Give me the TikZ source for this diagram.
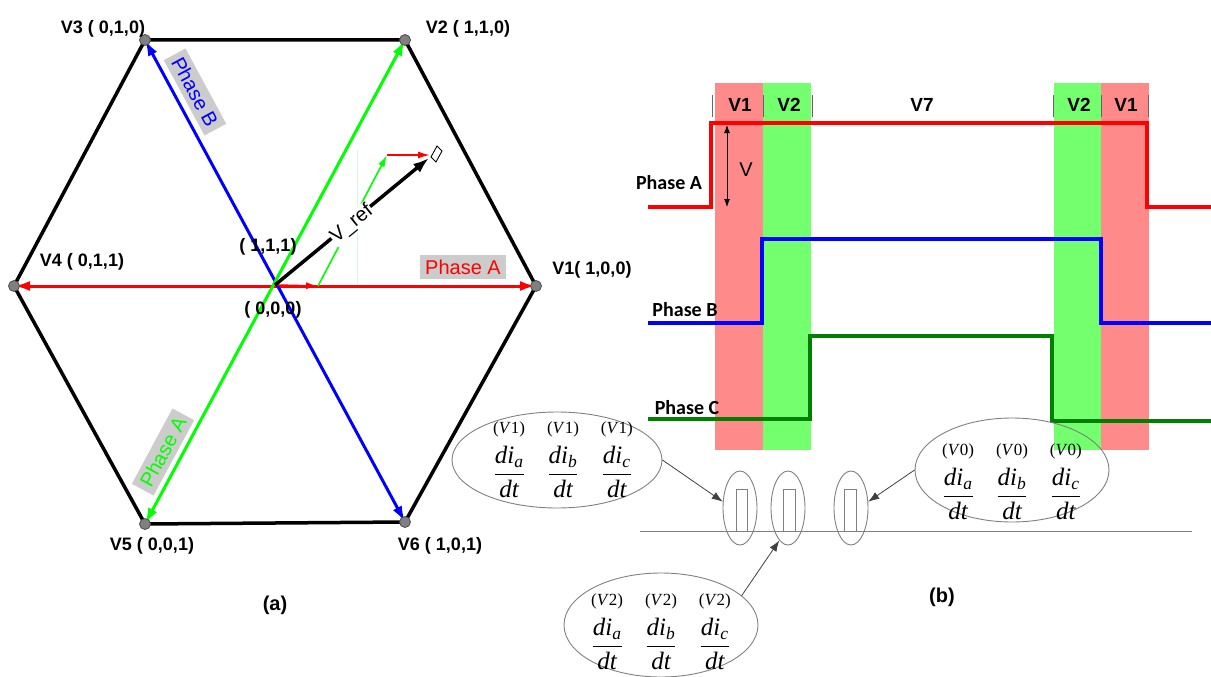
\documentclass[tikz,border=0pt]{standalone}
\usepackage{amsmath}
\usepackage{fontspec}
\setmainfont{Liberation Serif}
\setsansfont{Liberation Sans}
\newfontfamily\carlito{Carlito}
\usetikzlibrary{arrows.meta,positioning,shapes.geometric}

\definecolor{bandred}{HTML}{FF8A8A}
\definecolor{bandgreen}{HTML}{73FF6E}
\definecolor{limegr}{HTML}{00FF00}
\definecolor{phasec}{HTML}{007F00}
\definecolor{boxgray}{HTML}{CCCCCC}

\newcommand{\rate}[2]{\begin{tabular}{@{}c@{}}{\fontsize{17}{17}\selectfont(\textit{V}#2)}\\[4pt]$\dfrac{\textit{di}_{\textit{#1}}}{\textit{dt}}$\end{tabular}}
\newcommand{\rates}[1]{\rate{a}{#1}\hspace{22pt}\rate{b}{#1}\hspace{22pt}\rate{c}{#1}}

\begin{document}
\begin{tikzpicture}[x=1pt, y=-1pt,
  hexside/.style={line width=3.5pt, line join=round},
  vec/.style={line width=3pt, {Latex[length=16pt,width=10pt]}-{Latex[length=16pt,width=10pt]}},
  comp/.style={line width=1.6pt, -{Latex[length=12pt,width=7pt]}},
  vtx/.style={circle, draw=black!70, fill=gray, line width=0.8pt, minimum size=11pt, inner sep=0pt},
  lbl/.style={font=\sffamily\bfseries\fontsize{18}{22}\selectfont, inner sep=0pt},
  tag/.style={fill=boxgray, font=\sffamily\fontsize{20}{24}\selectfont, inner sep=5pt},
  wave/.style={line width=3.5pt},
  phs/.style={font=\carlito\bfseries\fontsize{20}{24}\selectfont, inner sep=0pt},
  slot/.style={font=\sffamily\bfseries\fontsize{19}{22}\selectfont, inner sep=0pt},
  sep/.style={draw=black!60, line width=1pt},
  pulse/.style={ellipse, draw=gray, line width=0.9pt, minimum width=34pt, minimum height=74pt, inner sep=0pt},
  bubble/.style={ellipse, draw=gray, line width=0.9pt, minimum width=194pt, minimum height=104pt, inner sep=0pt},
  rates/.style={font=\fontsize{25}{28}\selectfont, inner sep=0pt},
  ptr/.style={draw=black!75, line width=0.8pt, -{Latex[length=11pt,width=8pt]}}
]
\useasboundingbox (0,0) rectangle (1211,677);

\coordinate (v1) at (536,286);
\coordinate (v2) at (405,40);
\coordinate (v3) at (145,40);
\coordinate (v4) at (14,286);
\coordinate (v5) at (145,524);
\coordinate (v6) at (405,522);
\coordinate (o) at (275,285);
\coordinate (ref) at (429,158);
\coordinate (ha) at (318,286);
\coordinate (hb) at (387,155);
\coordinate (hc) at (430,155);

\draw[hexside] (v1) -- (v2) -- (v3) -- (v4) -- (v5) -- (v6) -- cycle;
\draw[cyan!15, line width=0.8pt] (357,150) -- (357,285);
\draw[vec, red] (v4) -- (v1);
\draw[vec, blue] (v3) -- (v6);
\draw[vec, limegr] (v5) -- (v2);
\draw[comp, red] (o) -- (ha);
\draw[line width=3.5pt, -{Latex[length=16pt,width=11pt]}] (o) -- (ref);
\draw[comp, limegr] (ha) -- (hb);
\draw[comp, red] (hb) -- (hc);
\draw[line width=0.9pt] (431,157) -- (437,146) -- (442,151) -- (436,162) -- cycle;
\node[fill=white, inner sep=1pt, rotate=39, font=\sffamily\fontsize{20}{24}\selectfont] (vref) at (352,224) {V\_ref};

\foreach \v in {v1,v2,v3,v4,v5,v6}
  \node[vtx] at (\v) {};

\node[tag, text=blue, rotate=-61.6] (tb) at (195,92) {Phase B};
\node[tag, text=limegr, rotate=61.7] (tga) at (163,452) {Phase A};
\node[tag, text=red] (tra) at (463,267) {Phase A};

\node[lbl] (l3) at (103,29) {V3 ( 0,1,0)};
\node[lbl] (l2) at (468,29) {V2 ( 1,1,0)};
\node[lbl] (l4) at (82,262) {V4 ( 0,1,1)};
\node[lbl] (l1) at (592,270) {V1( 1,0,0)};
\node[lbl] (l5) at (152,546) {V5 ( 0,0,1)};
\node[lbl] (l6) at (440,546) {V6 ( 1,0,1)};
\node[lbl] (l7) at (268,247) {( 1,1,1)};
\node[lbl] (l0) at (273,310) {( 0,0,0)};
\node[lbl, font=\sffamily\bfseries\fontsize{20}{24}\selectfont] (cap_a) at (275,605) {(a)};

\fill[bandred] (715,83) rectangle (763,450);
\fill[bandgreen] (763,83) rectangle (811,450);
\fill[bandgreen] (1054,83) rectangle (1101,450);
\fill[bandred] (1101,83) rectangle (1149,450);

\foreach \x in {712,763,812,1053,1101,1148}
  \draw[sep] (\x,95) -- (\x,117);
\node[slot] (s1) at (740,105) {V1};
\node[slot] (s2) at (789,105) {V2};
\node[slot] (s7) at (922,105) {V7};
\node[slot] (s8) at (1079,105) {V2};
\node[slot] (s9) at (1126,105) {V1};

\draw[wave, red] (648,207) -| (711,123) -| (1147,207) -- (1211,207);
\draw[wave, blue] (648,323) -| (762,239) -| (1101,323) -- (1211,323);
\draw[wave, phasec] (648,419) -| (810,336) -| (1052,421) -- (1211,421);

\coordinate (vt) at (727,125);
\coordinate (vb) at (727,207);
\draw[line width=0.9pt, {Latex[length=8pt,width=6pt]}-{Latex[length=8pt,width=6pt]}] (vt) -- (vb);
\node[font=\sffamily\fontsize{20}{24}\selectfont, inner sep=0pt] (vamp) at (746,170) {V};

\node[phs] (pa) at (669,183) {Phase A};
\node[phs] (pb) at (685,310) {Phase B};
\node[phs] (pc) at (687,408) {Phase C};

\draw[gray, line width=0.9pt] (640,531) -- (1192,531);
\draw[gray, line width=0.9pt] (736,531) |- (747,489) -- (747,531);
\draw[gray, line width=0.9pt] (783,531) |- (795,489) -- (795,531);
\draw[gray, line width=0.9pt] (844,531) |- (856,489) -- (856,531);
\node[pulse] (p1) at (740,508) {};
\node[pulse] (p2) at (788,508) {};
\node[pulse] (p3) at (851,508) {};

\node[bubble, minimum width=210pt, minimum height=96pt] (e1) at (557,460) {};
\node[bubble] (e2) at (1012,470) {};
\node[bubble] (e3) at (661,625) {};
\node[rates] (f1) at (563,456) {\rates{1}};
\node[rates] (f2) at (1012,478) {\rates{0}};
\node[rates] (f3) at (661,628) {\rates{2}};

\draw[ptr] (e1.east) -- (p1.160);
\draw[ptr] (e2.west) -- (p3.20);
\draw[ptr] (e3.20) -- (p2.255);

\node[lbl, font=\sffamily\bfseries\fontsize{20}{24}\selectfont] (cap_b) at (942,597) {(b)};
\end{tikzpicture}
\end{document}
